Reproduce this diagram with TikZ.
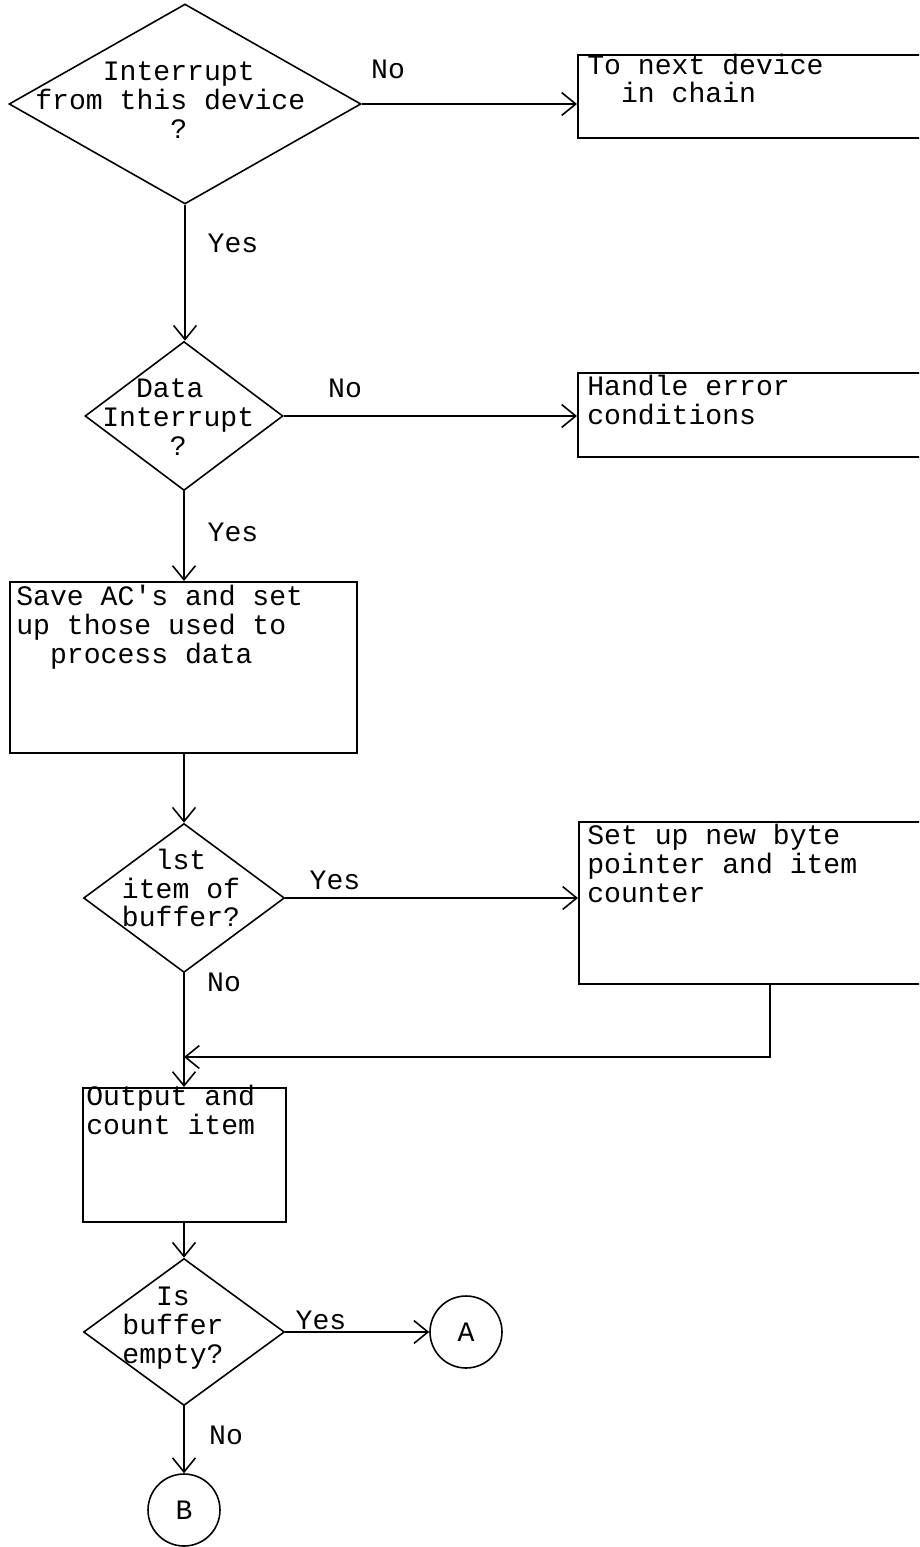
\documentclass[tikz,border=0pt]{standalone}
\usepackage{fontspec}
\setmainfont{Liberation Mono}
\usetikzlibrary{shapes.geometric, arrows.meta}

\tikzset{
  decision/.style={diamond, draw, line width=0.9pt, inner sep=0pt},
  process/.style={rectangle, draw, line width=0.9pt, anchor=north west, inner sep=0pt},
  connector/.style={circle, draw, line width=0.9pt, minimum size=1.44cm, inner sep=0pt},
  flow/.style={line width=0.9pt, -{Straight Barb[length=8pt, width=13pt]}},
  boxtext/.style={align=left, anchor=base west, inner sep=0pt},
  lefttext/.style={align=left, anchor=west, inner sep=0pt},
  midtext/.style={align=center, inner sep=0pt}
}

\begin{document}
\begin{tikzpicture}[x=0.02cm, y=-0.02cm, font=\fontsize{16}{16.4}\selectfont]
  \clip (0,0) rectangle (919,1547);

  % decisions
  \node[decision, minimum width=7.04cm, minimum height=4cm] (fromdev) at (185,104) {};
  \node[lefttext] (fromdevtxt) at (35,100) {~~~~Interrupt\\from this device\\~~~~~~~~?};
  \node[decision, minimum width=3.96cm, minimum height=2.98cm] (datairq) at (184,416) {};
  \node[lefttext] (datairqtxt) at (102,417) {~~Data\\Interrupt\\~~~~?};
  \node[decision, minimum width=4.02cm, minimum height=2.98cm] (firstitem) at (184,898) {};
  \node[midtext] (firstitemtxt) at (181,888) {lst\\item of\\buffer?};
  \node[decision, minimum width=4.02cm, minimum height=2.94cm] (empty) at (184,1332) {};
  \node[midtext] (emptytxt) at (173,1328) {Is\\buffer\\empty?};

  % boxes
  \node[process, minimum width=7.66cm, minimum height=1.66cm] (nextdev) at (577,54) {};
  \node[boxtext] (nextdevtxt) at (587,103) {To next device\\~~in chain};
  \node[process, minimum width=7.66cm, minimum height=1.68cm] (errbox) at (577,372) {};
  \node[boxtext] (errboxtxt) at (587,424) {Handle error\\conditions};
  \node[process, minimum width=6.94cm, minimum height=3.42cm] (saveac) at (9,581) {};
  \node[boxtext] (saveactxt) at (16,663) {Save AC\textquotesingle s and set\\up those used to\\~~process data};
  \node[process, minimum width=7.64cm, minimum height=3.24cm] (newptr) at (578,821) {};
  \node[boxtext] (newptrtxt) at (587,902) {Set up new byte\\pointer and item\\counter};
  \node[process, minimum width=4.06cm, minimum height=2.68cm] (output) at (82,1087) {};
  \node[boxtext] (outputtxt) at (86,1134) {Output and\\count item};

  % off-page connectors
  \node[connector] (bufA) at (466,1332) {A};
  \node[connector] (bufB) at (184,1510) {B};
  \coordinate (join) at (184,1057);

  % branch labels
  \node (no1) at (388,69) {No};
  \node (yes1) at (233,243) {Yes};
  \node (no2) at (345,388) {No};
  \node (yes2) at (233,532) {Yes};
  \node (yes3) at (335,880) {Yes};
  \node (no3) at (224,982) {No};
  \node (yes4) at (321,1320) {Yes};
  \node (no4) at (226,1435) {No};

  \draw[flow] (fromdev.east) -- (fromdev.east -| nextdev.west);
  \draw[flow] (fromdev.south) -- (fromdev.south |- datairq.north);
  \draw[flow] (datairq.east) -- (datairq.east -| errbox.west);
  \draw[flow] (datairq.south) -- (datairq.south |- saveac.north);
  \draw[flow] (datairq.south |- saveac.south) -- (firstitem.north);
  \draw[flow] (firstitem.east) -- (firstitem.east -| newptr.west);
  \draw[flow] (newptr.south) |- (join);
  \draw[flow] (firstitem.south) -- (firstitem.south |- output.north);
  \draw[flow] (firstitem.south |- output.south) -- (empty.north);
  \draw[flow] (empty.east) -- (bufA.west);
  \draw[flow] (empty.south) -- (bufB.north);
\end{tikzpicture}
\end{document}
